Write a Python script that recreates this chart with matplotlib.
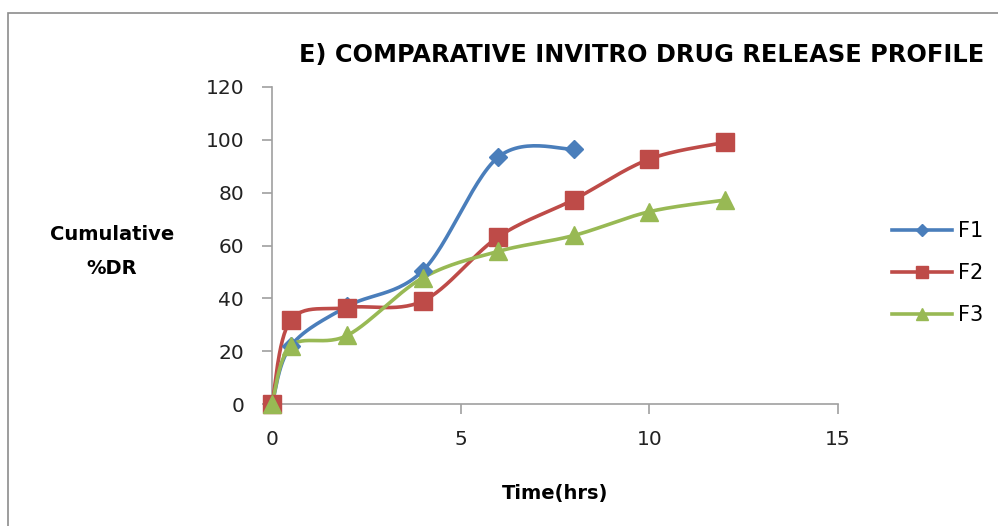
import numpy as np
import matplotlib
matplotlib.use("Agg")
import matplotlib.pyplot as plt
from matplotlib.lines import Line2D
from matplotlib.patches import Rectangle

# Sampling times (hrs) and cumulative % drug release per formulation
time_f1 = [0, 0.5, 2, 4, 6, 8]
dr_f1 = [0, 22, 37, 50.5, 93.5, 96.5]

time_f2 = [0, 0.5, 2, 4, 6, 8, 10, 12]
dr_f2 = [0, 31.8, 36.5, 39, 63.3, 77.4, 92.7, 99]

time_f3 = [0, 0.5, 2, 4, 6, 8, 10, 12]
dr_f3 = [0, 22, 26, 47.8, 57.8, 63.8, 72.8, 77.2]

series_names = ["F1", "F2", "F3"]
x_ticks = [0, 5, 10, 15]
y_ticks = [0, 20, 40, 60, 80, 100, 120]

colors = ["#4A7EBB", "#BE4B48", "#98B954"]
markers = ["D", "s", "^"]
msizes = [9, 13, 13]

FONT = "DejaVu Sans"


def smooth(x, y, n=30):
    """Bezier smoothing through the points (Catmull-Rom style tangents)."""
    x = np.asarray(x, float)
    y = np.asarray(y, float)
    pts = np.column_stack([x, y])
    out = [pts[0]]
    m = len(pts)
    for i in range(m - 1):
        p0 = pts[i - 1] if i > 0 else pts[i]
        p1 = pts[i]
        p2 = pts[i + 1]
        p3 = pts[i + 2] if i + 2 < m else pts[i + 1]
        c1 = p1 + (p2 - p0) / 6.0
        c2 = p2 - (p3 - p1) / 6.0
        t = np.linspace(0, 1, n)[1:, None]
        seg = ((1 - t) ** 3) * p1 + 3 * ((1 - t) ** 2) * t * c1 + 3 * (1 - t) * t ** 2 * c2 + t ** 3 * p2
        out.extend(seg)
    out = np.array(out)
    return out[:, 0], out[:, 1]


fig = plt.figure(figsize=(9.98, 5.26), dpi=100)
fig.patch.set_facecolor("white")

# outer chart border
fig.patches.append(Rectangle((8 / 998, -0.05), 1.2, 1 - 13 / 526 + 0.05,
                             transform=fig.transFigure, fill=False,
                             edgecolor="#8C8C8C", linewidth=1.2))

ax = fig.add_axes([272 / 998, 1 - 404 / 526, (838 - 272) / 998, (404 - 87) / 526])

data = [(time_f1, dr_f1), (time_f2, dr_f2), (time_f3, dr_f3)]
for (tx, ty), c, mk, ms, name in zip(data, colors, markers, msizes, series_names):
    sx, sy = smooth(tx, ty)
    ax.plot(sx, sy, color=c, linewidth=2.6, solid_capstyle="round", zorder=3)
    ax.plot(tx, ty, linestyle="none", marker=mk, markersize=ms, color=c,
            markeredgecolor=c, zorder=4, clip_on=False)

ax.set_xlim(0, 15)
ax.set_ylim(0, 120)
ax.set_xticks(x_ticks)
ax.set_yticks(y_ticks)
for s in ["top", "right"]:
    ax.spines[s].set_visible(False)
for s in ["left", "bottom"]:
    ax.spines[s].set_color("#A0A0A0")
    ax.spines[s].set_linewidth(1.2)
ax.tick_params(axis="both", direction="out", length=7, width=1.2, color="#A0A0A0",
               labelsize=14.5, labelcolor="#222222")
ax.tick_params(axis="x", pad=12)
ax.tick_params(axis="y", pad=13)
for lab in ax.get_xticklabels() + ax.get_yticklabels():
    lab.set_family(FONT)

ax.set_xlabel("Time(hrs)", fontsize=14, fontweight="bold", family=FONT, labelpad=25)

fig.text(112 / 998, 1 - 251 / 526, "Cumulative\n%DR", ha="center", va="center",
         fontsize=14, fontweight="bold", family=FONT, linespacing=2.0)

fig.text(642 / 998, 1 - 55 / 526, "E) COMPARATIVE INVITRO DRUG RELEASE PROFILE",
         ha="center", va="center", fontsize=17.3, fontweight="bold", family=FONT)

handles = [Line2D([], [], color=c, marker=mk, markersize=ms * 0.7, linewidth=2.6)
           for c, mk, ms in zip(colors, markers, msizes)]
fig.legend(handles, series_names, loc="center left", bbox_to_anchor=(873 / 998, 1 - 273 / 526),
           frameon=False, handlelength=2.9, handletextpad=0.3,
           labelspacing=1.05, prop={"family": FONT, "size": 15})

fig.savefig("out.png", dpi=100, facecolor="white")
